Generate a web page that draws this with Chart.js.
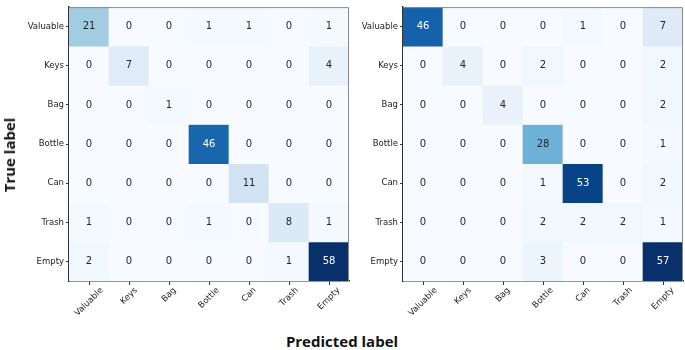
<!DOCTYPE html>
<html>
<head>
<meta charset="utf-8">
<script src="https://cdn.jsdelivr.net/npm/chart.js@4.4.0/dist/chart.umd.min.js"></script>
<style>
body { margin: 0; background: #fff; width: 685px; height: 350px; position: relative; overflow: hidden; }
canvas { position: absolute; top: 0; }
#leftChart { left: 0; }
#rightChart { left: 340px; }
.axisTitle { position: absolute; font-family: 'Open Sans', sans-serif; font-weight: bold; font-size: 15px; color: #111; white-space: nowrap; }
#trueLabel { left: 9px; top: 155px; transform: translate(-50%, -50%) rotate(-90deg); }
#predLabel { left: 342px; top: 341px; transform: translate(-50%, -50%); }
</style>
</head>
<body>
<canvas id="leftChart" width="352" height="330"></canvas>
<canvas id="rightChart" width="345" height="330"></canvas>
<div class="axisTitle" id="trueLabel">True label</div>
<div class="axisTitle" id="predLabel">Predicted label</div>
<script>
var classLabels = ['Valuable', 'Keys', 'Bag', 'Bottle', 'Can', 'Trash', 'Empty'];

// rows = true label, columns = predicted label
var leftCounts = [
    [21, 0, 0, 1, 1, 0, 1],
    [0, 7, 0, 0, 0, 0, 4],
    [0, 0, 1, 0, 0, 0, 0],
    [0, 0, 0, 46, 0, 0, 0],
    [0, 0, 0, 0, 11, 0, 0],
    [1, 0, 0, 1, 0, 8, 1],
    [2, 0, 0, 0, 0, 1, 58]
];
var rightCounts = [
    [46, 0, 0, 0, 1, 0, 7],
    [0, 4, 0, 2, 0, 0, 2],
    [0, 0, 4, 0, 0, 0, 2],
    [0, 0, 0, 28, 0, 0, 1],
    [0, 0, 0, 1, 53, 0, 2],
    [0, 0, 0, 2, 2, 2, 1],
    [0, 0, 0, 3, 0, 0, 57]
];

// matplotlib "Blues"
var bluesStops = ['#f7fbff', '#deebf7', '#c6dbef', '#9ecae1', '#6baed6', '#4292c6', '#2171b5', '#08519c', '#08306b'];
function hexToRgb(h) {
    return [parseInt(h.substr(1, 2), 16), parseInt(h.substr(3, 2), 16), parseInt(h.substr(5, 2), 16)];
}
function blues(t) {
    t = Math.max(0, Math.min(1, t));
    var pos = t * (bluesStops.length - 1);
    var i = Math.min(Math.floor(pos), bluesStops.length - 2);
    var f = pos - i;
    var a = hexToRgb(bluesStops[i]), b = hexToRgb(bluesStops[i + 1]);
    var c = a.map((v, k) => Math.round(v + (b[k] - v) * f));
    return 'rgb(' + c.join(',') + ')';
}

var tickFontCss = '8.5px "DejaVu Sans", sans-serif';

var cellText = {
    id: 'cellText',
    afterDatasetsDraw: function (chart) {
        var ctx = chart.ctx;
        var area = chart.chartArea;
        var max = chart.options.maxCount;
        ctx.save();
        ctx.font = '10px "DejaVu Sans", sans-serif';
        ctx.textAlign = 'center';
        ctx.textBaseline = 'middle';
        chart.data.datasets.forEach(function (ds, i) {
            chart.getDatasetMeta(i).data.forEach(function (bar, j) {
                var v = ds.counts[j];
                ctx.fillStyle = v > max / 2 ? '#ffffff' : '#262626';
                ctx.fillText(String(v), bar.x, (bar.y + bar.base) / 2);
            });
        });
        // top / right frame
        ctx.strokeStyle = '#8a8a8a';
        ctx.lineWidth = 1;
        ctx.beginPath();
        ctx.moveTo(area.left, area.top + 0.5);
        ctx.lineTo(area.right - 0.5, area.top + 0.5);
        ctx.lineTo(area.right - 0.5, area.bottom);
        ctx.stroke();

        // rotated x labels, centred under each tick (matplotlib rotation=45, ha=center)
        var xs = chart.scales.x;
        ctx.font = tickFontCss;
        ctx.fillStyle = '#222';
        var h = 8.5;
        classLabels.forEach(function (lab, i) {
            var x = xs.getPixelForTick(i);
            var w = ctx.measureText(lab).width;
            var box = (w + h) * Math.SQRT1_2;
            var top = area.bottom + 5;
            ctx.save();
            ctx.translate(x, top + box / 2);
            ctx.rotate(-Math.PI / 4);
            ctx.fillText(lab, 0, 0);
            ctx.restore();
        });
        ctx.restore();
    }
};

function buildMatrix(canvasId, counts, yWidth, padRight) {
    var max = Math.max.apply(null, counts.flat());
    var datasets = counts.map(function (row, r) {
        return {
            data: row.map(function () { return [r - 0.5, r + 0.5]; }),
            counts: row,
            backgroundColor: row.map(function (v) { return blues(v / max); }),
            borderWidth: 0,
            grouped: false,
            barPercentage: 1,
            categoryPercentage: 1
        };
    });
    var tickFont = { family: '"DejaVu Sans", sans-serif', size: 8.5 };
    return new Chart(document.getElementById(canvasId).getContext('2d'), {
        type: 'bar',
        data: { labels: classLabels, datasets: datasets },
        plugins: [cellText],
        options: {
            responsive: false,
            animation: false,
            maxCount: max,
            layout: { padding: { top: 2, right: padRight, left: 0, bottom: 0 } },
            plugins: { legend: { display: false }, tooltip: { enabled: false } },
            scales: {
                x: {
                    type: 'category',
                    offset: true,
                    grid: { display: true, drawOnChartArea: false, offset: false, tickLength: 4, color: '#333' },
                    border: { color: '#333', width: 1.5 },
                    ticks: { minRotation: 45, maxRotation: 45, font: tickFont, color: 'rgba(0,0,0,0)', padding: 1 },
                    afterFit: function (s) { s.height = 49; }
                },
                y: {
                    type: 'linear',
                    min: -0.5,
                    max: 6.5,
                    reverse: true,
                    afterBuildTicks: function (s) {
                        s.ticks = classLabels.map(function (l, i) { return { value: i }; });
                    },
                    grid: { display: true, drawOnChartArea: false, tickLength: 3, color: '#333' },
                    border: { color: '#333', width: 1.5 },
                    ticks: {
                        callback: function (v) { return classLabels[v]; },
                        font: tickFont, color: '#222', padding: 2
                    },
                    afterFit: function (s) { s.width = yWidth; }
                }
            }
        }
    });
}

buildMatrix('leftChart', leftCounts, 69, 3);
buildMatrix('rightChart', rightCounts, 63, 2);
</script>
</body>
</html>
